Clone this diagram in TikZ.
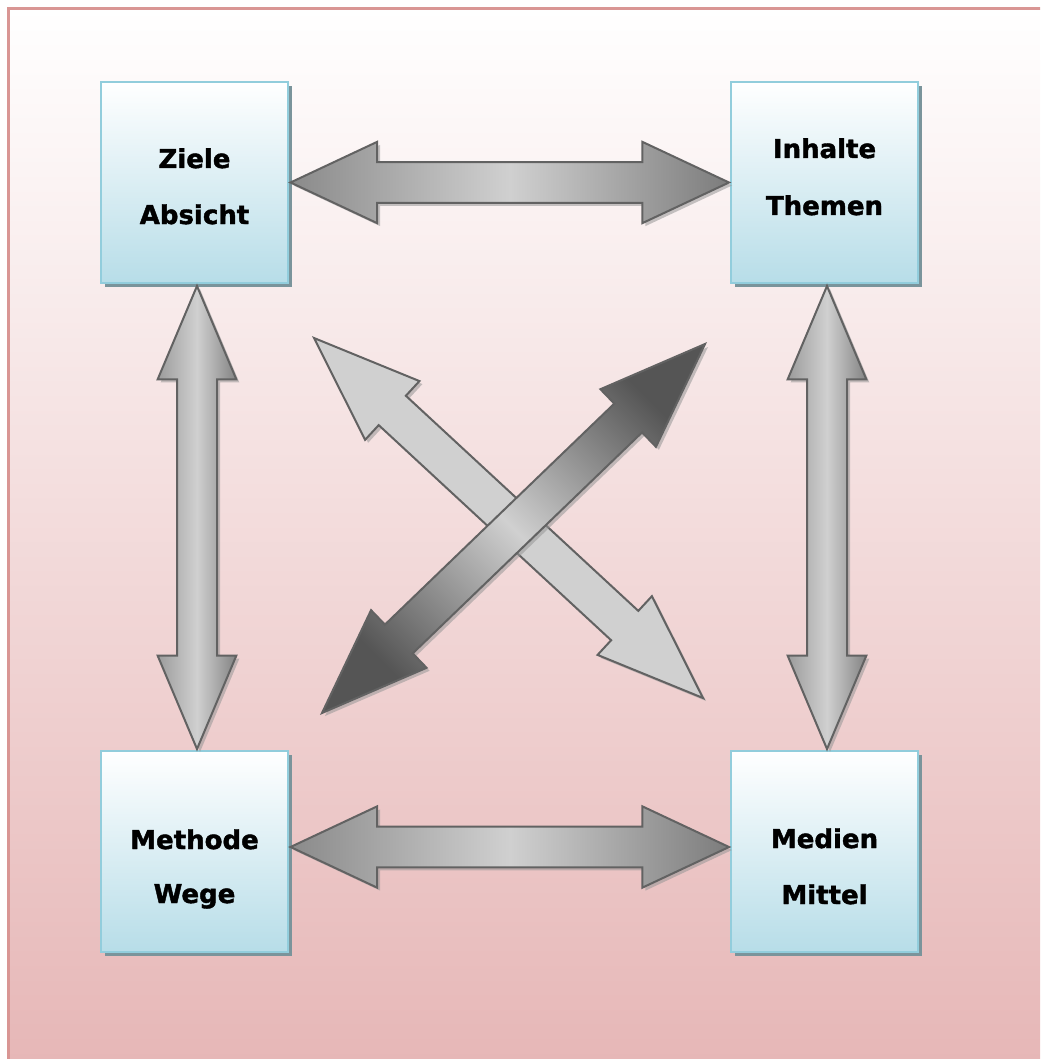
\documentclass[tikz,border=0pt]{standalone}
\usepackage{fontspec}
\setmainfont{DejaVu Sans}
\newfontfamily\lblfont[FakeBold=1.6]{DejaVu Sans Bold}
\usetikzlibrary{calc,shadows}
\definecolor{framebd}{RGB}{217,150,148}
\definecolor{framebot}{RGB}{230,182,182}
\definecolor{boxbd}{RGB}{146,205,220}
\definecolor{boxbot}{RGB}{183,221,232}
\definecolor{boxshadow}{RGB}{122,148,155}
\definecolor{arrbd}{RGB}{98,98,98}
\definecolor{arrshadow}{RGB}{150,150,150}
\definecolor{arrlight}{RGB}{208,208,208}
\definecolor{arrmid}{RGB}{138,138,138}
\definecolor{arrdark}{RGB}{85,85,85}
\newcommand\DblArrow[6]{%
  \coordinate (hA) at ($(#1)!#3!(#2)$);
  \coordinate (hB) at ($(#2)!#3!(#1)$);
  \draw[arrline,#6] (#1) -- ($(hA)!#4!90:(#2)$) -- ($(hA)!#5!90:(#2)$)
    -- ($(hB)!#5!-90:(#1)$) -- ($(hB)!#4!-90:(#1)$) -- (#2)
    -- ($(hB)!#4!90:(#1)$) -- ($(hB)!#5!90:(#1)$)
    -- ($(hA)!#5!-90:(#2)$) -- ($(hA)!#4!-90:(#2)$) -- cycle;}
\begin{document}
\begin{tikzpicture}[x=0.75pt,y=-0.75pt,
  box/.style={draw=boxbd, line width=1.5pt, top color=white, bottom color=boxbot,
    minimum width=140.25pt, minimum height=150.75pt, inner sep=0pt,
    general shadow={shadow xshift=3pt, shadow yshift=-3pt, fill=boxshadow}},
  lbl/.style={font=\fontsize{19.5}{24}\lblfont, text=black, inner sep=0pt, anchor=base},
  arrline/.style={draw=arrbd, line width=1.5pt, line join=miter,
    general shadow={shadow xshift=2.25pt, shadow yshift=-2.25pt, fill=arrshadow, opacity=.55}}]
\useasboundingbox (0,0) rectangle (1040,1059);
\begin{scope}
  \clip (0,0) rectangle (1040,1059);
  \fill[white] (0,0) rectangle (1040,1059);
  \draw[draw=framebd, line width=2.25pt, top color=white, bottom color=framebot] (8.5,8.5) rectangle (1060,1075);
\end{scope}
% boxes
\node[box] (ziele) at (194.5,182.5) {};
\node[box] (inhalte) at (824.5,182.5) {};
\node[box] (methode) at (194.5,851.5) {};
\node[box] (medien) at (824.5,851.5) {};
% labels
\node[lbl] (ziele1) at (194.5,168) {Ziele};
\node[lbl] (ziele2) at (194.5,224) {Absicht};
\node[lbl] (inhalte1) at (824.5,158) {Inhalte};
\node[lbl] (inhalte2) at (824.5,215) {Themen};
\node[lbl] (methode1) at (194.5,849) {Methode};
\node[lbl] (methode2) at (194.5,903) {Wege};
\node[lbl] (medien1) at (824.5,848) {Medien};
\node[lbl] (medien2) at (824.5,904) {Mittel};
% anchor points for the arrows
\coordinate (tl) at ($(ziele.east)+(1.5,0)$);
\coordinate (tr) at ($(inhalte.west)+(-1,0)$);
\coordinate (bl) at ($(methode.east)+(1.5,-4.5)$);
\coordinate (br) at ($(medien.west)+(-1,-4.5)$);
\coordinate (lt) at ($(ziele.south)+(2.5,2)$);
\coordinate (lb) at ($(methode.north)+(2.5,-1)$);
\coordinate (rt) at ($(inhalte.south)+(2.5,2)$);
\coordinate (rb) at ($(medien.north)+(2.5,-1)$);
\coordinate (d1a) at (314,338);
\coordinate (d1b) at (703,698);
\coordinate (d2a) at (322,713);
\coordinate (d2b) at (705,344);
% arrows
\DblArrow{tl}{tr}{65pt}{30.5pt}{15.25pt}{left color=arrmid, right color=arrmid!90!black, middle color=arrlight}
\DblArrow{bl}{br}{65pt}{30.5pt}{15.25pt}{left color=arrmid, right color=arrmid!90!black, middle color=arrlight}
\DblArrow{lt}{lb}{70pt}{29.5pt}{15pt}{left color=arrmid!85!white, right color=arrmid!95!black, middle color=arrlight}
\DblArrow{rt}{rb}{70pt}{29.5pt}{15pt}{left color=arrmid!85!white, right color=arrmid!95!black, middle color=arrlight}
\DblArrow{d1a}{d1b}{80pt}{30pt}{15pt}{fill=arrlight}
\DblArrow{d2a}{d2b}{80pt}{30pt}{15pt}{left color=arrdark, right color=arrdark, middle color=arrlight, shading angle=135}
\end{tikzpicture}
\end{document}
